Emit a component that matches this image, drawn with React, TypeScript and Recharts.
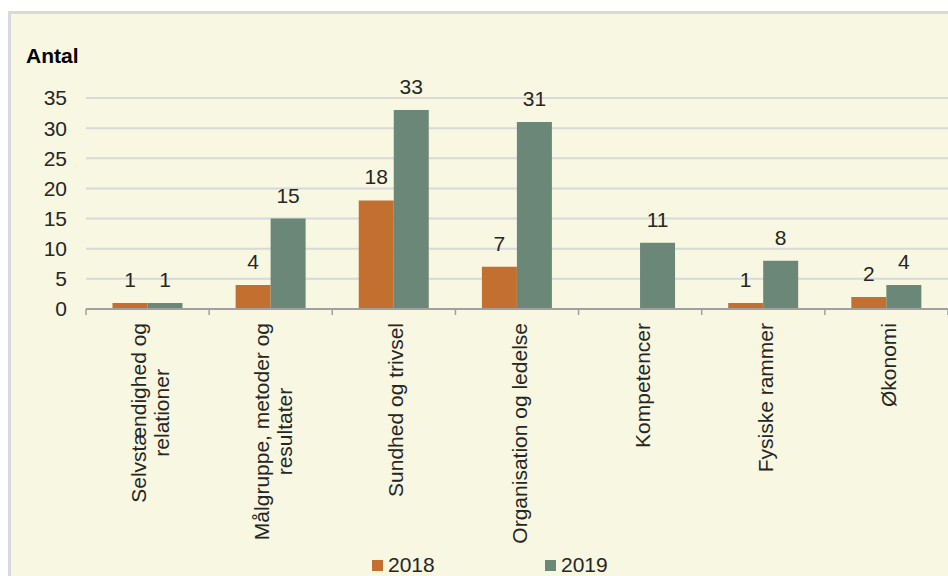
import { Bar, BarChart, CartesianGrid, LabelList, XAxis, YAxis } from "recharts";

const CATEGORIES = [
  ["Selvstændighed og", "relationer"],
  ["Målgruppe, metoder og", "resultater"],
  ["Sundhed og trivsel"],
  ["Organisation og ledelse"],
  ["Kompetencer"],
  ["Fysiske rammer"],
  ["Økonomi"],
];
const VALUES_2018 = [1, 4, 18, 7, 0, 1, 2];
const VALUES_2019 = [1, 15, 33, 31, 11, 8, 4];
const Y_TICKS = [0, 5, 10, 15, 20, 25, 30, 35];

const FONT = '"Liberation Sans", Arial, sans-serif';
const ORANGE = "#c26f30";
const GREEN = "#6a8777";
const TEXT = "#262626";

const data = CATEGORIES.map((lines, i) => ({
  name: lines.join(" "),
  lines,
  y2018: VALUES_2018[i],
  y2019: VALUES_2019[i],
}));

let ctx: CanvasRenderingContext2D | null = null;
function textWidth(s: string) {
  if (!ctx) ctx = document.createElement("canvas").getContext("2d");
  if (!ctx) return s.length * 10;
  ctx.font = `21px ${FONT}`;
  return ctx.measureText(s).width;
}

function CategoryTick(props: any) {
  const { x, y, payload, index } = props;
  const half = payload?.offset ?? 61.5;
  const lines: string[] = data[index]?.lines ?? [payload.value];
  const maxW = Math.max(...lines.map(textWidth));
  const cy = y + 14 + maxW / 2;
  const lineH = 23;
  return (
    <g>
      <line x1={x - half} x2={x - half} y1={y} y2={y + 6} stroke="#a0a0a0" strokeWidth={1.5} />
      {index === data.length - 1 && (
        <line x1={x + half} x2={x + half} y1={y} y2={y + 6} stroke="#a0a0a0" strokeWidth={1.5} />
      )}
      {lines.map((l, i) => (
        <text
          key={i}
          transform={`translate(${x + 2 + (i - (lines.length - 1) / 2) * lineH},${cy}) rotate(-90)`}
          textAnchor="middle"
          dominantBaseline="central"
          fontSize={21}
          fontFamily={FONT}
          fill={TEXT}
        >
          {l}
        </text>
      ))}
    </g>
  );
}

const hideZero = (v: any) => (v ? v : "");

const legendItem = { position: "absolute" as const, top: 555, display: "flex", alignItems: "center", fontSize: 21, lineHeight: "20px", height: 20, color: TEXT };

export default function App() {
  return (
    <div style={{ position: "fixed", left: 0, top: 0, width: 948, height: 576, overflow: "hidden", background: "#fff", fontFamily: FONT }}>
      <div
        style={{
          position: "absolute",
          left: 8,
          top: 11,
          width: 960,
          height: 600,
          border: "3px solid #d9d9d9",
          background: "#f8f7e2",
        }}
      />
      <div style={{ position: "absolute", left: 26, top: 44, fontSize: 21, fontWeight: "bold", color: "#000" }}>Antal</div>
      <div style={{ position: "absolute", left: 0, top: 0 }}>
        <BarChart
          width={948}
          height={576}
          data={data}
          margin={{ top: 98, right: 0, bottom: 0, left: 0 }}
          barCategoryGap="21.5%"
          barGap={0}
        >
          <CartesianGrid vertical={false} stroke="#d9d9d9" strokeWidth={2} />
          <XAxis
            dataKey="name"
            interval={0}
            height={267}
            tickLine={false}
            tickSize={0}
            tickMargin={0}
            axisLine={{ stroke: "#a0a0a0", strokeWidth: 2 }}
            tick={<CategoryTick />}
          />
          <YAxis
            width={86}
            domain={[0, 35]}
            ticks={Y_TICKS}
            interval={0}
            axisLine={false}
            tickLine={false}
            tickSize={0}
            tickMargin={19}
            tick={{ fontSize: 21, fill: TEXT, fontFamily: FONT }}
          />
          <Bar dataKey="y2018" fill={ORANGE} isAnimationActive={false}>
            <LabelList dataKey="y2018" position="top" offset={16} formatter={hideZero} fontSize={21} fill={TEXT} fontFamily={FONT} />
          </Bar>
          <Bar dataKey="y2019" fill={GREEN} isAnimationActive={false}>
            <LabelList dataKey="y2019" position="top" offset={16} formatter={hideZero} fontSize={21} fill={TEXT} fontFamily={FONT} />
          </Bar>
        </BarChart>
      </div>
      <div style={{ ...legendItem, left: 372 }}>
        <span style={{ display: "inline-block", width: 11, height: 11, background: ORANGE, marginRight: 5 }} />
        2018
      </div>
      <div style={{ ...legendItem, left: 545 }}>
        <span style={{ display: "inline-block", width: 11, height: 11, background: GREEN, marginRight: 5 }} />
        2019
      </div>
    </div>
  );
}
